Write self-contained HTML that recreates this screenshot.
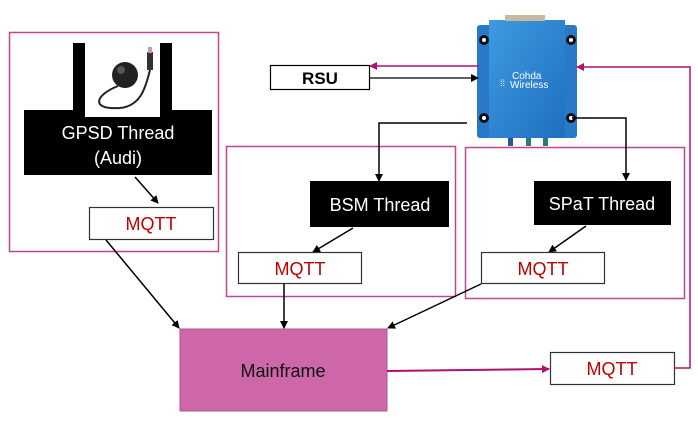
<!DOCTYPE html>
<html><head><meta charset="utf-8"><style>
html,body{margin:0;padding:0;background:#fff;width:698px;height:429px;overflow:hidden}
svg text{font-family:"Liberation Sans",sans-serif}
</style></head><body>
<svg width="698" height="429" viewBox="0 0 698 429" xmlns="http://www.w3.org/2000/svg">
<defs>
<marker id="ab" markerWidth="8" markerHeight="8" refX="7" refY="4" orient="auto" markerUnits="userSpaceOnUse"><path d="M0,0 L8,4 L0,8 z" fill="#000"/></marker>
<marker id="am" markerWidth="8" markerHeight="8" refX="7" refY="4" orient="auto" markerUnits="userSpaceOnUse"><path d="M0,0 L8,4 L0,8 z" fill="#b0106e"/></marker>
<linearGradient id="bl" x1="0" y1="0" x2="1" y2="1"><stop offset="0" stop-color="#3f9ae0"/><stop offset="1" stop-color="#1f6fc0"/></linearGradient>
</defs>
<!-- outer magenta boxes -->
<rect x="9.5" y="32.5" width="209" height="219" fill="none" stroke="#c0468f" stroke-width="1.5"/>
<rect x="226.5" y="146.5" width="229" height="150" fill="none" stroke="#c0468f" stroke-width="1.5"/>
<rect x="465.5" y="147.5" width="219" height="151" fill="none" stroke="#c0468f" stroke-width="1.5"/>
<!-- GPSD -->
<path d="M73,43 H85 V117 H160 V43 H172 V110 H212 V175 H24 V110 H73 Z" fill="#000"/>
<circle cx="125" cy="75" r="13" fill="#222"/><circle cx="121" cy="70" r="4" fill="#555"/>
<path d="M118,86 C95,95 90,110 120,108 C140,106 145,90 150,70" stroke="#222" stroke-width="2" fill="none"/>
<rect x="147" y="52" width="6" height="18" fill="#333"/><rect x="148" y="47" width="4" height="6" fill="#c9a"/>
<text x="118" y="139" font-size="18" fill="#fff" text-anchor="middle">GPSD Thread</text>
<text x="118" y="164" font-size="18" fill="#fff" text-anchor="middle">(Audi)</text>
<line x1="135" y1="177" x2="158" y2="203" stroke="#000" stroke-width="1.5" marker-end="url(#ab)"/>
<rect x="89.5" y="207.5" width="124" height="32" fill="#fff" stroke="#333" stroke-width="1.2"/>
<text x="151" y="230" font-size="18" fill="#c00000" text-anchor="middle">MQTT</text>
<!-- RSU -->
<rect x="270.5" y="65.5" width="99" height="24" fill="#fff" stroke="#000" stroke-width="1.2"/>
<text x="320" y="84" font-size="17" font-weight="bold" fill="#000" text-anchor="middle">RSU</text>
<!-- device -->
<rect x="477" y="25" width="100" height="113" rx="3" fill="#2a78c8"/>
<rect x="489" y="20" width="76" height="118" fill="url(#bl)"/>
<rect x="505" y="15" width="40" height="6" fill="#c8b8a0"/>
<rect x="508" y="138" width="5" height="8" fill="#2a5a8a"/><rect x="526" y="138" width="5" height="8" fill="#2a7a7a"/><rect x="543" y="138" width="5" height="8" fill="#2a7a7a"/>
<circle cx="484" cy="40" r="5" fill="#111"/><circle cx="484" cy="40" r="2" fill="#fff"/>
<circle cx="571" cy="40" r="5" fill="#111"/><circle cx="571" cy="40" r="2" fill="#fff"/>
<circle cx="484" cy="118" r="5" fill="#111"/><circle cx="484" cy="118" r="2" fill="#fff"/>
<circle cx="571" cy="118" r="5" fill="#111"/><circle cx="571" cy="118" r="2" fill="#fff"/>
<text x="512" y="79" font-size="10" fill="#fff">Cohda</text>
<text x="510" y="88" font-size="10" fill="#fff">Wireless</text>
<text x="500" y="86" font-size="9" fill="#fff">⁞⁞</text>
<!-- RSU arrows -->
<line x1="479" y1="66" x2="370" y2="66" stroke="#b0106e" stroke-width="1.5" marker-end="url(#am)"/>
<line x1="369" y1="78" x2="478" y2="78" stroke="#000" stroke-width="1.2" marker-end="url(#ab)"/>
<polyline points="467,123 379,123 379,181" fill="none" stroke="#000" stroke-width="1.5" marker-end="url(#ab)"/>
<polyline points="572,118 626,118 626,180" fill="none" stroke="#000" stroke-width="1.5" marker-end="url(#ab)"/>
<!-- BSM -->
<rect x="310" y="181" width="139" height="46" fill="#000"/>
<text x="380" y="211" font-size="18" fill="#fff" text-anchor="middle">BSM Thread</text>
<line x1="353" y1="228" x2="313" y2="252" stroke="#000" stroke-width="1.5" marker-end="url(#ab)"/>
<rect x="238.5" y="252.5" width="123" height="31" fill="#fff" stroke="#333" stroke-width="1.2"/>
<text x="300" y="275" font-size="18" fill="#c00000" text-anchor="middle">MQTT</text>
<!-- SPaT -->
<rect x="534" y="181" width="137" height="44" fill="#000"/>
<text x="602" y="210" font-size="18" fill="#fff" text-anchor="middle">SPaT Thread</text>
<line x1="586" y1="226" x2="549" y2="252" stroke="#000" stroke-width="1.5" marker-end="url(#ab)"/>
<rect x="481.5" y="252.5" width="123" height="31" fill="#fff" stroke="#333" stroke-width="1.2"/>
<text x="543" y="275" font-size="18" fill="#c00000" text-anchor="middle">MQTT</text>
<!-- Mainframe -->
<rect x="180" y="329" width="207" height="82" fill="#cd67a8" stroke="#b05590" stroke-width="1"/>
<text x="283" y="377" font-size="18" fill="#111" text-anchor="middle">Mainframe</text>
<line x1="106" y1="240" x2="179" y2="328" stroke="#000" stroke-width="1.5" marker-end="url(#ab)"/>
<line x1="284" y1="284" x2="284" y2="328" stroke="#000" stroke-width="1.5" marker-end="url(#ab)"/>
<line x1="481" y1="284" x2="388" y2="328" stroke="#000" stroke-width="1.5" marker-end="url(#ab)"/>
<line x1="387" y1="371" x2="549" y2="369" stroke="#b0106e" stroke-width="2" marker-end="url(#am)"/>
<rect x="550.5" y="352.5" width="124" height="32" fill="#fff" stroke="#333" stroke-width="1.2"/>
<text x="612" y="375" font-size="18" fill="#c00000" text-anchor="middle">MQTT</text>
<polyline points="674,368 690,368 690,67 577,67" fill="none" stroke="#b0106e" stroke-width="1.5" marker-end="url(#am)"/>
</svg>
</body></html>
